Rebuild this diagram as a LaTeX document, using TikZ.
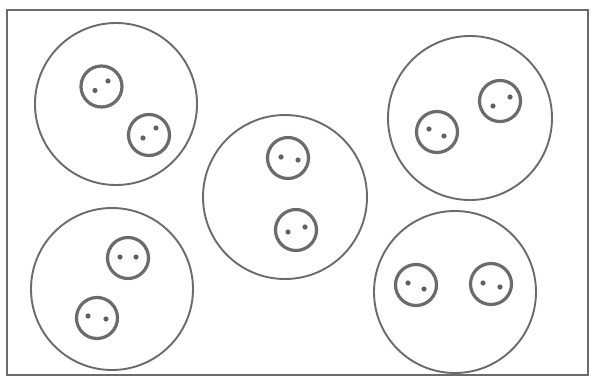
\documentclass[tikz,border=0pt]{standalone}
\begin{document}
\begin{tikzpicture}[x=1pt,y=-1pt,
  ink/.style={draw=black!58},
  frame/.style={ink,line width=2pt},
  plate/.style={ink,line width=1.9pt},
  button/.style={ink,line width=3.2pt},
  hole/.style={fill=black!62}]
\useasboundingbox[fill=white] (0,0) rectangle (602,383);
\draw[frame] (7,10) rectangle (588,375);
% big circles
\draw[plate] (116,104) circle[radius=81];
\draw[plate] (285,197) circle[radius=82];
\draw[plate] (470,118) circle[radius=82];
\draw[plate] (112,289) circle[radius=81];
\draw[plate] (455,292) circle[radius=81];
% buttons: #1 x, #2 y, #3/#4 first hole offset, #5/#6 second hole offset
\newcommand{\mybtn}[6]{%
  \begin{scope}[shift={(#1,#2)}]
  \draw[button] (0,0) circle[radius=20.5];
  \fill[hole] (#3,#4) circle[radius=2.6];
  \fill[hole] (#5,#6) circle[radius=2.6];
  \end{scope}}
\mybtn{101.5}{86.5}{-6.5}{4}{6.5}{-5.5}
\mybtn{149}{135}{-6}{3}{7}{-7}
\mybtn{288}{158}{-7}{-1}{10}{2}
\mybtn{296}{230}{-8}{2}{9}{-3}
\mybtn{500}{101}{-7}{5}{10}{-4}
\mybtn{437}{132}{-8}{-3}{7}{4}
\mybtn{128}{258}{-8}{-1}{8}{-1}
\mybtn{97}{318}{-9}{-2}{9}{1}
\mybtn{416}{285}{-8}{-2}{8}{4}
\mybtn{491}{284}{-8}{-1}{9}{3}
\end{tikzpicture}
\end{document}
